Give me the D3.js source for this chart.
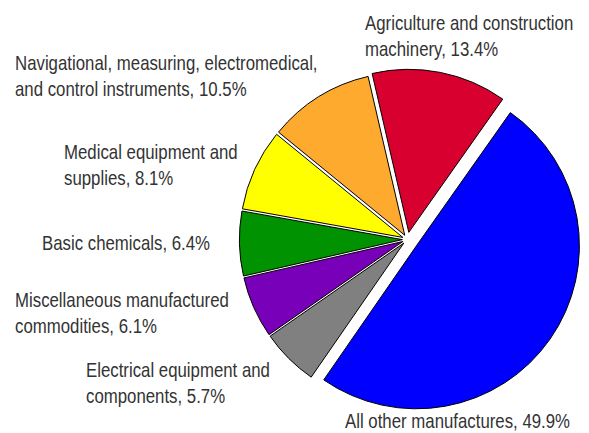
<!DOCTYPE html>
<html>
<head>
<meta charset="utf-8">
<script src="https://cdn.jsdelivr.net/npm/d3@7"></script>
<style>
  html, body { margin: 0; padding: 0; background: #fff; }
  svg { display: block; }
</style>
</head>
<body>
<div id="chart"></div>
<script>
// Shares of manufactured exports (percent), clockwise from the top
const categories = [
    "Agriculture and construction machinery",
    "All other manufactures",
    "Electrical equipment and components",
    "Miscellaneous manufactured commodities",
    "Basic chemicals",
    "Medical equipment and supplies",
    "Navigational, measuring, electromedical, and control instruments"
];
const shares = [13.4, 49.9, 5.7, 6.1, 6.4, 8.1, 10.5];
const sliceColors = ["#d7002f", "#0000ff", "#808080", "#7700b8", "#009200", "#ffff00", "#fdaa2e"];

// Label text lines, one entry per slice (same order as above)
const labelLines = [
    ["Agriculture and construction", "machinery, 13.4%"],
    ["All other manufactures, 49.9%"],
    ["Electrical equipment and", "components, 5.7%"],
    ["Miscellaneous manufactured", "commodities, 6.1%"],
    ["Basic chemicals, 6.4%"],
    ["Medical equipment and", "supplies, 8.1%"],
    ["Navigational, measuring, electromedical,", "and control instruments, 10.5%"]
];

const width = 589;
const height = 433;

// Layout settings
const cx = 407.4, cy = 239.5, radius = 163;
const explode = [7.3, 11, 5, 5, 5, 5, 5];
const labelAnchor = [[365, 30], [345, 428], [86, 377], [15, 307], [42, 250], [64, 159], [15, 70]];
const lineGap = 26;
const startDeg = -13;
const squeeze = 0.82; // narrow-font look

const svg = d3.select("#chart")
    .append("svg")
    .attr("width", width)
    .attr("height", height)
    .attr("viewBox", `0 0 ${width} ${height}`);

const pie = d3.pie()
    .sort(null)
    .value(d => d)
    .startAngle(startDeg * Math.PI / 180)
    .endAngle(startDeg * Math.PI / 180 + 2 * Math.PI);

const arc = d3.arc()
    .innerRadius(0)
    .outerRadius(radius);

const slices = pie(shares);

svg.selectAll("path.slice")
    .data(slices)
    .enter()
    .append("path")
    .attr("class", "slice")
    .attr("d", arc)
    .attr("transform", (d, i) => {
        const mid = (d.startAngle + d.endAngle) / 2;
        const dx = explode[i] * Math.sin(mid);
        const dy = -explode[i] * Math.cos(mid);
        return `translate(${cx + dx},${cy + dy})`;
    })
    .style("fill", (d, i) => sliceColors[i])
    .style("stroke", "#000")
    .style("stroke-width", 1);

// Labels
const labels = svg.selectAll("text.label")
    .data(labelLines)
    .enter()
    .append("text")
    .attr("class", "label")
    .attr("transform", (d, i) => `translate(${labelAnchor[i][0]},${labelAnchor[i][1]}) scale(${squeeze},1)`)
    .style("font-family", "'Liberation Sans', Arial, sans-serif")
    .style("font-size", "20.5px")
    .style("fill", "#333");

labels.each(function(lines) {
    const t = d3.select(this);
    lines.forEach((line, j) => {
        t.append("tspan")
            .attr("x", 0)
            .attr("y", j * lineGap)
            .text(line);
    });
});
</script>
</body>
</html>
